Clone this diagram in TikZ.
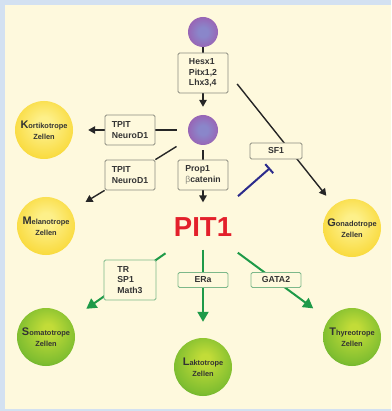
\documentclass[tikz,border=0pt]{standalone}
\usepackage{fontspec}
\setmainfont{Liberation Sans}
\usetikzlibrary{arrows.meta}
\definecolor{frameblue}{HTML}{D3E1F1}
\definecolor{panel}{HTML}{FEF9DD}
\definecolor{ylight}{HTML}{FDF08A}
\definecolor{ymid}{HTML}{F9DA3C}
\definecolor{yedge}{HTML}{F2BE12}
\definecolor{glight}{HTML}{C2DC38}
\definecolor{gmid}{HTML}{80BE30}
\definecolor{gedge}{HTML}{2F942A}
\definecolor{plight}{HTML}{8A86CA}
\definecolor{pmid}{HTML}{9A60B2}
\definecolor{pedge}{HTML}{A6449A}
\definecolor{boxline}{HTML}{8C8C80}
\definecolor{gboxline}{HTML}{7DB88A}
\definecolor{arrowgreen}{HTML}{1E9A48}
\definecolor{inhblue}{HTML}{2C2C8C}
\definecolor{pitred}{HTML}{E3202B}
\definecolor{txt}{HTML}{333333}
\definecolor{betagray}{HTML}{8A8A80}
\pgfdeclareradialshading{yball}{\pgfpoint{0bp}{6bp}}{color(0bp)=(ylight); color(6bp)=(ylight); color(28bp)=(ymid); color(42bp)=(yedge); color(50bp)=(yedge)}
\pgfdeclareradialshading{gball}{\pgfpoint{2bp}{8bp}}{color(0bp)=(glight); color(4bp)=(glight); color(26bp)=(gmid); color(42bp)=(gedge); color(50bp)=(gedge)}
\pgfdeclareradialshading{pball}{\pgfpoint{0bp}{0bp}}{color(0bp)=(plight); color(8bp)=(plight); color(28bp)=(pmid); color(42bp)=(pedge); color(50bp)=(pedge)}
\pgfdeclarelayer{bglayer}
\pgfdeclarelayer{linelayer}
\pgfsetlayers{bglayer,linelayer,main}
\newcommand\bigini[1]{{\fontsize{11}{11}\selectfont #1}}
\tikzset{
  cell/.style={circle, minimum size=58pt, inner sep=0pt, align=center, text=txt,
    font=\bfseries\fontsize{7.4}{11}\selectfont},
  yellowcell/.style={cell, shading=yball},
  greencell/.style={cell, shading=gball},
  stem/.style={circle, minimum size=30pt, inner sep=0pt, shading=pball},
  tfbox/.style={draw=boxline, line width=0.8pt, rounded corners=1.5pt, fill=panel,
    font=\bfseries\fontsize{8.7}{10.5}\selectfont, text=txt, align=left,
    inner sep=0pt, minimum width=50pt},
  gbox/.style={tfbox, draw=gboxline},
  plainline/.style={draw=black!85, line width=1.4pt},
  blk/.style={plainline, -{Triangle[length=7pt,width=7.5pt]}},
  grn/.style={draw=arrowgreen, line width=2pt, -{Triangle[length=10pt,width=11pt]}},
  inh/.style={draw=inhblue, line width=2pt, -{Bar[width=12pt,line width=2pt]}}
}
\begin{document}
\begin{tikzpicture}[x=1pt,y=-1pt]
\useasboundingbox (0,0) rectangle (391,411);
\begin{pgfonlayer}{bglayer}
  \fill[frameblue] (0,0) rectangle (391,411);
  \fill[panel] (5,5) rectangle (391,409);
\end{pgfonlayer}
% stem cells
\node[stem] (c1) at (203,32) {};
\node[stem] (c2) at (203,130) {};
% factor boxes
\node[tfbox, minimum height=40pt] (hesx) at (203,73) {Hesx1\\Pitx1,2\\Lhx3,4};
\node[tfbox, minimum height=30pt] (tpit1) at (130,130) {TPIT\\NeuroD1};
\node[tfbox, minimum height=30pt] (tpit2) at (130,175) {TPIT\\NeuroD1};
\node[tfbox, minimum height=30pt] (prop) at (203,175) {Prop1\\{\mdseries\color{betagray}β}catenin};
\node[tfbox, minimum width=52pt, minimum height=16pt, align=center] (sf1) at (276,151) {SF1};
\node[gbox, minimum width=52pt, minimum height=40pt] (tr) at (130,280) {TR\\SP1\\Math3};
\node[gbox, minimum height=15pt, align=center] (era) at (203,280) {ERa};
\node[gbox, minimum height=15pt, align=center] (gata) at (276,280) {GATA2};
% PIT1
\node[font=\bfseries\fontsize{27.5}{27.5}\selectfont, text=pitred, inner sep=0pt] (pit) at (203,227) {PIT1};
% cell types
\node[yellowcell] (kort) at (44,130) {\bigini{K}ortikotrope\\Zellen};
\node[yellowcell] (mel) at (46,226) {\bigini{M}elanotrope\\Zellen};
\node[yellowcell] (gon) at (352,228) {\bigini{G}onadotrope\\Zellen};
\node[greencell] (som) at (46,337) {\bigini{S}omatotrope\\Zellen};
\node[greencell] (lak) at (203,367) {\bigini{L}aktotrope\\Zellen};
\node[greencell] (thy) at (352,337) {\bigini{T}hyreotrope\\Zellen};
\coordinate (inhend) at (270,168);
% connectors
\begin{pgfonlayer}{linelayer}
  \draw[plainline] (c1.south) -- (hesx.north);
  \draw[blk, shorten >=8pt] (hesx.south) -- (c2.north);
  \draw[plainline, shorten <=11pt] (c2.west) -- (tpit1.east);
  \draw[blk, shorten >=15pt] (tpit1.west) -- (kort.east);
  \draw[plainline, shorten <=16pt] (c2) -- (tpit2.north east);
  \draw[blk, shorten >=17pt] (tpit2.south west) -- (mel);
  \draw[plainline, shorten <=5pt] (c2.south) -- (prop.north);
  \draw[blk, shorten >=15pt] (prop.south) -- (pit.north);
  \draw[blk, shorten <=14pt, shorten >=12pt] (hesx.east) -- (gon);
  \draw[inh, shorten <=32pt] (pit) -- (inhend);
  \draw[grn, shorten <=29pt, shorten >=20pt] (pit) -- (som);
  \draw[grn, shorten <=13pt, shorten >=16pt] (pit.south) -- (lak.north);
  \draw[grn, shorten <=27pt, shorten >=19pt] (pit) -- (thy);
\end{pgfonlayer}
\end{tikzpicture}
\end{document}
